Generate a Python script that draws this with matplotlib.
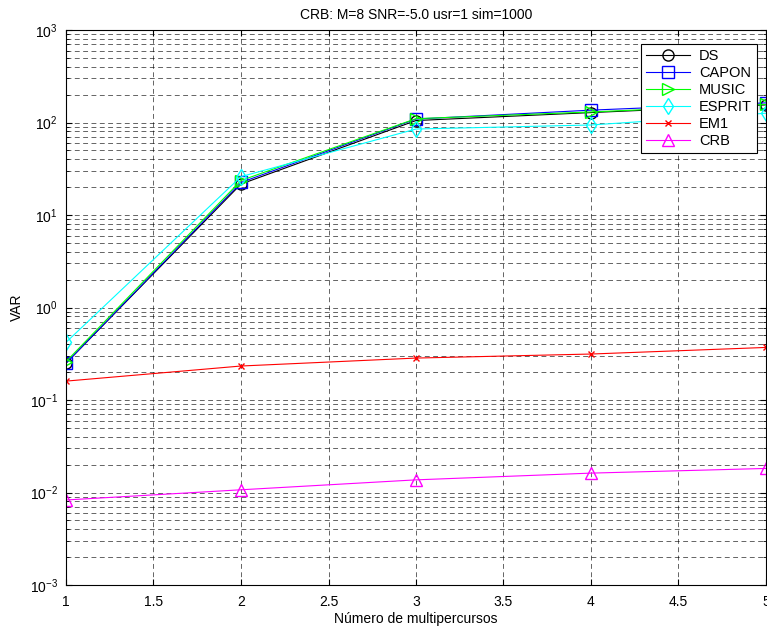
import numpy as np
import matplotlib
matplotlib.use("Agg")
import matplotlib.pyplot as plt
from matplotlib.ticker import LogLocator, NullFormatter

plt.rcParams['font.family'] = ['Liberation Sans', 'DejaVu Sans']

# number of multipath components
paths = [1, 2, 3, 4, 5]

# variance of each estimator
var_ds = [0.25, 21.6, 105, 128, 155]
var_capon = [0.25, 22.5, 109, 136, 163]
var_music = [0.26, 23.6, 110, 130, 157]
var_esprit = [0.42, 26, 85, 94, 126]
var_em1 = [0.16, 0.233, 0.284, 0.314, 0.37]
var_crb = [0.0083, 0.0107, 0.0137, 0.0162, 0.0182]

series = [
    ('DS', var_ds, (0, 0, 0), 'o'),
    ('CAPON', var_capon, (0, 0, 1), 's'),
    ('MUSIC', var_music, (0, 1, 0), '>'),
    ('ESPRIT', var_esprit, (0, 1, 1), 'd'),
    ('EM1', var_em1, (1, 0, 0), 'x'),
    ('CRB', var_crb, (1, 0, 1), '^'),
]

fig = plt.figure(figsize=(7.67, 6.28), dpi=100)
W, H = 767, 628
ax = fig.add_axes([66 / W, (H - 585) / H, (766 - 66) / W, (585 - 30) / H])

for name, vals, col, mk in series:
    ms = 4 if mk == 'x' else 8
    ax.semilogy(paths, vals, color=col, marker=mk, markersize=ms,
                markerfacecolor='none', markeredgecolor=col,
                linewidth=0.8, label=name)

ax.set_xlim(1, 5)
ax.set_ylim(1e-3, 1e3)
ax.set_xticks(np.arange(1, 5.01, 0.5))
ax.set_xticklabels(['1', '1.5', '2', '2.5', '3', '3.5', '4', '4.5', '5'])
ax.yaxis.set_major_locator(LogLocator(base=10, numticks=10))
ax.yaxis.set_minor_locator(LogLocator(base=10, subs=np.arange(2, 10), numticks=100))
ax.yaxis.set_minor_formatter(NullFormatter())

grid_style = dict(color='black', linestyle=(0, (7, 5)), linewidth=0.5, alpha=0.85)
ax.grid(True, which='major', axis='both', **grid_style)
ax.grid(True, which='minor', axis='y', **grid_style)

ax.tick_params(which='both', direction='in', top=True, right=True, labelsize=10)
ax.tick_params(axis='x', which='major', pad=7)
ax.tick_params(axis='y', which='major', pad=6)
ax.tick_params(which='major', length=4)
ax.tick_params(which='minor', length=2)
for sp in ax.spines.values():
    sp.set_linewidth(0.8)

ax.set_xlabel('Número de multipercursos', fontsize=10, labelpad=2)
ax.set_ylabel('VAR', fontsize=10, labelpad=4)
ax.set_title('CRB: M=8 SNR=-5.0 usr=1 sim=1000', fontsize=10, pad=8)

leg = ax.legend(loc='upper right', bbox_to_anchor=(757 / W, (H - 44) / H),
                bbox_transform=fig.transFigure, fontsize=10.5, fancybox=False,
                framealpha=1, edgecolor='black', borderpad=0.35,
                labelspacing=0.2, handlelength=3.0, handletextpad=0.6,
                borderaxespad=0)
leg.get_frame().set_linewidth(0.8)

fig.savefig('out.png', dpi=100)
